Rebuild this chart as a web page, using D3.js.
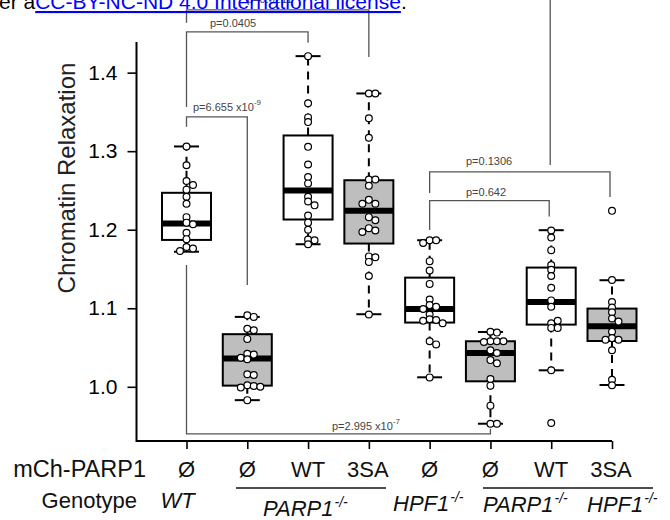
<!DOCTYPE html>
<html><head><meta charset="utf-8">
<script src="https://cdn.jsdelivr.net/npm/d3@7"></script>
<style>
html,body{margin:0;padding:0;background:#fff;}
svg{display:block;font-family:"Liberation Sans",Arial,Helvetica,sans-serif;}
</style></head>
<body>
<svg id="chart" width="670" height="520"></svg>
<script>
// ---------- data ----------
const categories = ["WT Ø","PARP1 Ø","PARP1 WT","PARP1 3SA","HPF1 Ø","PH Ø","PH WT","PH 3SA"];
const constructLabels = ["Ø","Ø","WT","3SA","Ø","Ø","WT","3SA"];
const boxFilled = [false,true,false,true,false,true,false,true];
const whiskerLow  = [1.172, 0.983, 1.1815, 1.0924, 1.0121, 0.953, 1.021, 1.0023];
const quartile1   = [1.187, 1.0015, 1.213, 1.1824, 1.0818, 1.007, 1.0792, 1.0583];
const medians     = [1.208, 1.036, 1.250, 1.224, 1.099, 1.043, 1.108, 1.077];
const quartile3   = [1.247, 1.067, 1.320, 1.263, 1.139, 1.058, 1.1518, 1.0996];
const whiskerHigh = [1.306, 1.089, 1.421, 1.3735, 1.1866, 1.0698, 1.1994, 1.1357];
const pointsWT_null      = [1.306,1.282,1.262,1.257,1.251,1.242,1.233,1.216,1.209,1.207,1.196,1.188,1.178,1.176,1.173];
const pointsPARP1_null   = [1.091,1.089,1.074,1.072,1.061,1.042,1.041,1.037,1.035,1.016,1.015,1.002,1.001,0.999,1.000,0.983];
const pointsPARP1_WT     = [1.421,1.361,1.343,1.337,1.3055,1.283,1.267,1.259,1.242,1.236,1.231,1.218,1.209,1.200,1.1875,1.1866,1.1815];
const pointsPARP1_3SA    = [1.3735,1.3735,1.342,1.317,1.264,1.264,1.256,1.238,1.233,1.233,1.216,1.212,1.202,1.199,1.197,1.166,1.165,1.159,1.141,1.092];
const pointsHPF1_null    = [1.1866,1.1866,1.183,1.160,1.148,1.131,1.111,1.104,1.102,1.099,1.092,1.086,1.085,1.084,1.081,1.058,1.054,1.012];
const pointsPH_null      = [1.070,1.069,1.058,1.058,1.057,1.058,1.0465,1.043,1.034,1.030,1.010,1.0015,0.976,0.953,0.953];
const pointsPH_WT        = [1.199,1.190,1.174,1.155,1.149,1.141,1.126,1.110,1.102,1.081,1.084,1.075,1.075,1.021,0.954];
const pointsPH_3SA       = [1.224,1.136,1.108,1.101,1.095,1.087,1.083,1.070,1.062,1.060,1.060,1.0465,1.009,1.002];
const pointSets = [pointsWT_null,pointsPARP1_null,pointsPARP1_WT,pointsPARP1_3SA,pointsHPF1_null,pointsPH_null,pointsPH_WT,pointsPH_3SA];
const yTicks = [1.0,1.1,1.2,1.3,1.4];
const yTickLabels = ["1.0","1.1","1.2","1.3","1.4"];
// significance brackets
const brackets = [
  {a:0,b:3,level:1.480,la:1.4635,lb:1.420,label:"p=0.0211",exp:null},
  {a:0,b:2,level:1.452,la:1.3564,lb:1.438,label:"p=0.0405",exp:null},
  {a:0,b:1,level:1.3437,la:1.331,lb:1.1296,label:"p=6.655 x10",exp:"-9"},
  {a:0,b:5,level:0.940,la:1.155,lb:0.9465,label:"p=2.995 x10",exp:"-7"},
  {a:4,b:7,level:1.2736,la:1.2467,lb:1.2416,label:"p=0.1306",exp:null},
  {a:4,b:6,level:1.237,la:1.1998,lb:1.2167,label:"p=0.642",exp:null}
];

// ---------- scales ----------
const svg = d3.select("#chart");
const x = d3.scalePoint().domain(categories).range([186.5, 612]);
const y = d3.scaleLinear().domain([0.931, 1.439]).range([441, 42]);
const axisX0 = 136.5;

// ---------- brackets (behind) ----------
const bcol = "#555";
const bg = svg.append("g").attr("stroke", bcol).attr("stroke-width", 1.3).attr("fill","none");
brackets.forEach(b=>{
  const xa = x(categories[b.a]), xb = x(categories[b.b]) - (b.a===4?2:0);
  bg.append("path").attr("d",
    `M${xa},${y(b.la)}V${y(b.level)}H${xb}V${y(b.lb)}`);
});
bg.append("line").attr("x1", x(categories[6])-1).attr("x2", x(categories[6])-1)
  .attr("y1", y(1.50)).attr("y2", y(1.2825));

const labelPos = [[247,3],[210,27],[193,111],[332,430],[466,165],[466,196]];
brackets.forEach((b,i)=>{
  const t = svg.append("text").attr("x",labelPos[i][0]).attr("y",labelPos[i][1])
    .attr("font-size",11).attr("fill","#444").text(b.label);
  if (b.exp) t.append("tspan").attr("dy",-6).attr("font-size",8).text(b.exp);
});

// ---------- axes ----------
const yAxis = d3.axisLeft(y).tickValues(yTicks).tickFormat((d,i)=>yTickLabels[i]).tickSize(9).tickPadding(10).tickSizeOuter(0);
const gy = svg.append("g").attr("transform",`translate(${axisX0},0)`).call(yAxis);
gy.select(".domain").remove();
gy.selectAll(".tick line").attr("stroke","#000").attr("stroke-width",1.6);
gy.selectAll(".tick text").attr("font-size",21).attr("fill","#000")
  .attr("font-family","'Liberation Sans',Arial,sans-serif");

const xAxis = d3.axisBottom(x).tickFormat("").tickSize(8).tickSizeOuter(0);
const gx = svg.append("g").attr("transform",`translate(0,441)`).call(xAxis);
gx.select(".domain").remove();
gx.selectAll(".tick line").attr("stroke","#000").attr("stroke-width",1.6);

svg.append("path").attr("fill","none").attr("stroke","#000").attr("stroke-width",2)
  .attr("d",`M${axisX0},${y.range()[1]}V${y.range()[0]}H${x(categories[7])}`);

svg.append("text").attr("transform",`translate(75,178) rotate(-90)`)
  .attr("text-anchor","middle").attr("font-size",24).attr("fill","#222")
  .text("Chromatin Relaxation");

// ---------- boxes ----------
const bw = 49, capW = 25;
const gb = svg.append("g");
categories.forEach((c,i)=>{
  const cx = x(c);
  const g = gb.append("g");
  g.append("line").attr("x1",cx).attr("x2",cx).attr("y1",y(quartile3[i])).attr("y2",y(whiskerHigh[i]))
    .attr("stroke","#000").attr("stroke-width",2).attr("stroke-dasharray","8,6");
  g.append("line").attr("x1",cx).attr("x2",cx).attr("y1",y(quartile1[i])).attr("y2",y(whiskerLow[i]))
    .attr("stroke","#000").attr("stroke-width",2).attr("stroke-dasharray","8,6");
  [whiskerHigh[i], whiskerLow[i]].forEach(v=>{
    g.append("line").attr("x1",cx-capW/2).attr("x2",cx+capW/2).attr("y1",y(v)).attr("y2",y(v))
      .attr("stroke","#000").attr("stroke-width",2);
  });
  g.append("rect").attr("x",cx-bw/2).attr("width",bw)
    .attr("y",y(quartile3[i])).attr("height",y(quartile1[i])-y(quartile3[i]))
    .attr("fill",boxFilled[i]?"#bebebe":"#fff").attr("stroke","#000").attr("stroke-width",2);
  g.append("line").attr("x1",cx-bw/2).attr("x2",cx+bw/2).attr("y1",y(medians[i])).attr("y2",y(medians[i]))
    .attr("stroke","#000").attr("stroke-width",6);
});

// ---------- points (dodged when they would coincide) ----------
const gp = svg.append("g");
const offsets = [0,6.5,-6.5,13,-13,19.5,-19.5];
categories.forEach((c,i)=>{
  const cx = x(c);
  const placed = [];
  pointSets[i].forEach(v=>{
    const py = y(v);
    let px = cx;
    for (const o of offsets){
      const cand = cx + o;
      if (!placed.some(p=>Math.hypot(p[0]-cand,p[1]-py) < 4.5)){ px = cand; break; }
    }
    placed.push([px,py]);
  });
  gp.selectAll(null).data(placed).enter().append("circle")
    .attr("cx",d=>d[0]).attr("cy",d=>d[1]).attr("r",3.4)
    .attr("fill","#fff").attr("stroke","#000").attr("stroke-width",1.2);
});

// ---------- bottom labels ----------
const lab = svg.append("g").attr("fill","#111").attr("font-size",22);
lab.append("text").attr("x",146).attr("y",477).attr("text-anchor","end").attr("font-size",23.5).text("mCh-PARP1");
lab.append("text").attr("x",137).attr("y",508).attr("text-anchor","end").text("Genotype");
constructLabels.forEach((t,i)=>{
  lab.append("text").attr("x",x(categories[i])+(t==="3SA"?-1:0)).attr("y",477).attr("text-anchor","middle").text(t);
});
const gen = svg.append("g").attr("font-size",22).attr("font-style","italic").attr("fill","#111");
gen.append("text").attr("x",x(categories[0])-9).attr("y",508).attr("text-anchor","middle").text("WT");
function geno(g, name, xpos, ypos){
  const t = g.append("text").attr("x",xpos).attr("y",ypos).text(name);
  t.append("tspan").attr("dy",-9).attr("font-size",14).attr("dx",1).text("-/-");
}
geno(gen,"PARP1",263,516);
geno(gen,"HPF1",393,511);
geno(gen,"PARP1",483,512);
geno(gen,"HPF1",587,512);
svg.append("line").attr("x1",236).attr("x2",386).attr("y1",488).attr("y2",488).attr("stroke","#111").attr("stroke-width",1.3);
svg.append("line").attr("x1",483).attr("x2",653).attr("y1",488).attr("y2",488).attr("stroke","#111").attr("stroke-width",1.3);

// ---------- page header fragment ----------
const hdr = svg.append("text").attr("x",-1).attr("y",9).attr("font-size",21).attr("fill","#000");
hdr.append("tspan").text("er a");
hdr.append("tspan").attr("fill","#0000ff").attr("text-decoration","underline").text("CC-BY-NC-ND 4.0 International license");
hdr.append("tspan").text(".");
</script>
</body></html>
